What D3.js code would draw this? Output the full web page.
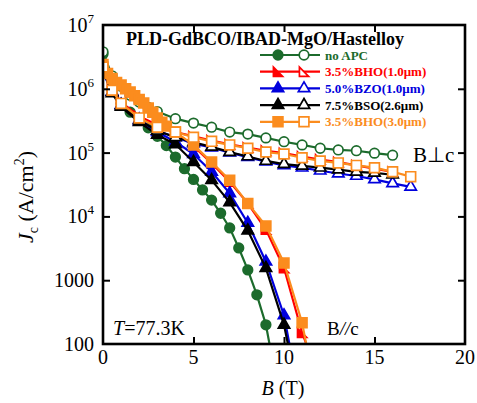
<!DOCTYPE html>
<html><head><meta charset="utf-8">
<script src="https://cdn.jsdelivr.net/npm/d3@7"></script>
<style>body{margin:0;background:#fff} svg{display:block}</style>
</head><body><svg id="c" width="477" height="403"></svg>
<script>
// ---------- DATA ----------
const seriesNames = ["no APC", "3.5%BHO(1.0\u03bcm)", "5.0%BZO(1.0\u03bcm)", "7.5%BSO(2.6\u03bcm)", "3.5%BHO(3.0\u03bcm)"];
const seriesColors = ["#1c6b2c", "#ff0000", "#0000dd", "#000000", "#fb8c1e"];

// no APC
const B_noApc_perp = [0,0.5,1,1.5,2,2.5,3,4,5,6,7,8,9,10,11,12,13,14,15,16];
const J_noApc_perp = [3.8e6,1.6e6,1.1e6,7.9e5,6.2e5,5.1e5,4.4e5,3.4e5,2.9e5,2.5e5,2.1e5,1.95e5,1.7e5,1.48e5,1.32e5,1.17e5,1.1e5,1.07e5,9.8e4,9.1e4];
const B_noApc_par = [0,0.5,1,1.5,2,2.5,3,3.5,4,4.5,5,5.5,6,6.5,7,7.5,8,8.5,9,9.5];
const J_noApc_par = [3.5e6,9.5e5,5.9e5,4.3e5,3.3e5,2.45e5,1.8e5,1.29e5,8.5e4,5.6e4,3.8e4,2.6e4,1.8e4,1.12e4,6.6e3,3.2e3,1.45e3,590,200,35];

// 3.5% BHO (1.0 um)
const B_bho1_perp = [0,0.5,1,2,3,4,5,6,7,8,9,10,11,12,13,14,15,16];
const J_bho1_perp = [2.5e6,1.0e6,6.2e5,3.7e5,2.7e5,2.1e5,1.8e5,1.55e5,1.35e5,1.2e5,1.07e5,9.8e4,8.7e4,7.8e4,7.1e4,6.3e4,5.6e4,5.0e4];
const B_bho1_par = [0,0.5,1,1.5,2,2.5,3,4,5,6,7,8,9,10,11,11.5];
const J_bho1_par = [2.5e6,1.5e6,1.17e6,8.9e5,6.9e5,5.2e5,3.7e5,2.1e5,1.26e5,6.8e4,3.5e4,1.6e4,6.2e3,1.55e3,150,63];

// 5.0% BZO (1.0 um)
const B_bzo_perp = [0,0.5,1,2,3,4,5,6,7,8,9,10,11,12,13,14,15,16,17];
const J_bzo_perp = [2.0e6,9.0e5,5.5e5,3.1e5,2.2e5,1.74e5,1.38e5,1.2e5,1.0e5,8.5e4,7.2e4,6.3e4,5.8e4,5.2e4,4.7e4,4.3e4,3.8e4,3.3e4,2.9e4];
const B_bzo_par = [0,0.5,1,2,3,4,5,6,7,8,9,10,10.5];
const J_bzo_par = [1.8e6,8.9e5,5.6e5,3.3e5,2.1e5,1.48e5,9.5e4,5.0e4,2.3e4,7.9e3,1.95e3,280,50];

// 7.5% BSO (2.6 um)
const B_bso_perp = [0,0.5,1,2,3,4,5,6,7,8,9,10,11,12,13,14,15,16];
const J_bso_perp = [2.0e6,8.9e5,5.5e5,3.2e5,2.2e5,1.74e5,1.45e5,1.23e5,1.02e5,8.7e4,7.4e4,6.6e4,6.2e4,5.8e4,5.4e4,5.0e4,4.8e4,4.5e4];
const B_bso_par = [0,0.5,1,2,3,4,5,6,7,8,9,10,10.5];
const J_bso_par = [2.0e6,8.5e5,5.2e5,3.0e5,1.9e5,1.35e5,7.1e4,3.7e4,1.66e4,6.0e3,1.55e3,200,40];

// 3.5% BHO (3.0 um)
const B_bho3_perp = [0,0.5,1,2,3,4,5,6,7,8,9,10,11,12,13,14,15,16,17];
const J_bho3_perp = [2.2e6,9.5e5,5.9e5,3.5e5,2.5e5,2.1e5,1.74e5,1.5e5,1.32e5,1.17e5,1.02e5,9.5e4,8.3e4,7.4e4,6.9e4,6.3e4,5.8e4,5.0e4,4.2e4];
const B_bho3_par = [0,0.25,0.5,0.75,1,1.25,1.5,1.75,2,2.25,2.5,2.75,3,3.25,3.5,4,5,6,7,8,9,10,11,11.5];
const J_bho3_par = [2.4e6,1.74e6,1.45e6,1.26e6,1.15e6,1.0e6,8.9e5,7.8e5,6.8e5,6.0e5,5.0e5,4.3e5,3.5e5,3.0e5,2.6e5,2.1e5,1.32e5,7.1e4,3.7e4,1.6e4,7.1e3,1.86e3,215,40];

const xTicks = [0,5,10,15,20];
const yTicks = [100,1e3,1e4,1e5,1e6,1e7];
const yTickLabels = [["100",""],["1000",""],["10","4"],["10","5"],["10","6"],["10","7"]];

// ---------- SETUP ----------
const svg = d3.select("#c");
const L = 103, R = 465, T = 25, Bt = 344;
const x = d3.scaleLinear().domain([0,20]).range([L,R]);
const y = d3.scaleLog().domain([100,1e7]).range([Bt,T]);
const serif = "'Liberation Serif','Times New Roman',serif";

svg.append("defs").append("clipPath").attr("id","clip")
  .append("rect").attr("x",L).attr("y",T).attr("width",R-L).attr("height",Bt-T);

const rightTri = {draw(ctx,size){const r=Math.sqrt(size)/2; ctx.moveTo(-r,-r); ctx.lineTo(-r,r); ctx.lineTo(r,r); ctx.closePath();}};
const symbols = [d3.symbolCircle, rightTri, d3.symbolTriangle, d3.symbolTriangle, d3.symbolSquare];
const symSize = [72, 84, 56, 56, 96];

const series = [
  {perp:[B_noApc_perp,J_noApc_perp], par:[B_noApc_par,J_noApc_par]},
  {perp:[B_bho1_perp,J_bho1_perp], par:[B_bho1_par,J_bho1_par]},
  {perp:[B_bzo_perp,J_bzo_perp], par:[B_bzo_par,J_bzo_par]},
  {perp:[B_bso_perp,J_bso_perp], par:[B_bso_par,J_bso_par]},
  {perp:[B_bho3_perp,J_bho3_perp], par:[B_bho3_par,J_bho3_par]}
];

const line = d3.line().x(d=>x(d[0])).y(d=>y(d[1]));
const plot = svg.append("g").attr("clip-path","url(#clip)");

series.forEach((s,i)=>{
  const col = seriesColors[i];
  const g = plot.append("g");
  [["par",true],["perp",false]].forEach(([k,filled])=>{
    const pts = s[k][0].map((b,j)=>[b,s[k][1][j]]);
    g.append("path").attr("d",line(pts)).attr("fill","none").attr("stroke",col).attr("stroke-width",2.2);
    g.selectAll(null).data(pts).enter().append("path")
      .attr("transform",d=>`translate(${x(d[0])},${y(d[1])})`)
      .attr("d",d3.symbol().type(symbols[i]).size(symSize[i]))
      .attr("fill",filled?col:"#fff").attr("stroke",col).attr("stroke-width",1.7);
  });
});

// ---------- AXES ----------
const ax = svg.append("g");
ax.append("g").attr("transform",`translate(0,${Bt})`).call(d3.axisBottom(x).tickValues(xTicks.slice(1,-1)).tickSize(-7).tickFormat(""));
ax.append("g").attr("transform",`translate(0,${T})`).call(d3.axisTop(x).tickValues(xTicks.slice(1,-1)).tickSize(-7).tickFormat(""));
ax.append("g").attr("transform",`translate(${L},0)`).call(d3.axisLeft(y).tickValues(yTicks.slice(1,-1)).tickSize(-7).tickFormat(""));
ax.append("g").attr("transform",`translate(${R},0)`).call(d3.axisRight(y).tickValues(yTicks.slice(1,-1)).tickSize(-7).tickFormat(""));
ax.selectAll(".domain").remove();
ax.selectAll("line").attr("stroke","#000").attr("stroke-width",2);
svg.append("rect").attr("x",L).attr("y",T).attr("width",R-L).attr("height",Bt-T)
  .attr("fill","none").attr("stroke","#000").attr("stroke-width",2.6);

// tick labels
svg.append("g").selectAll("text").data(xTicks).enter().append("text")
  .attr("x",d=>x(d)).attr("y",Bt+20).attr("text-anchor","middle")
  .attr("font-family",serif).attr("font-size",20).text(d=>d);
const yl = svg.append("g").selectAll("text").data(yTicks).enter().append("text")
  .attr("x",L-9).attr("y",d=>y(d)+7).attr("text-anchor","end")
  .attr("font-family",serif).attr("font-size",20);
yl.each(function(d,i){
  const t = d3.select(this), lab = yTickLabels[i];
  t.append("tspan").text(lab[0]);
  if(lab[1]) t.append("tspan").attr("dy",-9).attr("font-size",13).text(lab[1]);
});

// axis titles
const xt = svg.append("text").attr("x",283).attr("y",395).attr("text-anchor","middle")
  .attr("font-family",serif).attr("font-size",20);
xt.append("tspan").attr("font-style","italic").text("B");
xt.append("tspan").text(" (T)");
const ytl = svg.append("text").attr("transform","translate(33,197) rotate(-90)").attr("text-anchor","middle")
  .attr("font-family",serif).attr("font-size",22);
ytl.append("tspan").attr("font-style","italic").text("J");
ytl.append("tspan").attr("font-size",14).attr("dy",5).text("c");
ytl.append("tspan").attr("dy",-5).text(" (A/cm");
ytl.append("tspan").attr("font-size",14).attr("dy",-9).text("2");
ytl.append("tspan").attr("dy",9).text(")");

// title
svg.append("text").attr("x",126).attr("y",45).attr("font-family",serif).attr("font-weight","bold")
  .attr("font-size",18).text("PLD-GdBCO/IBAD-MgO/Hastelloy");

// annotations
svg.append("text").attr("x",413).attr("y",162).attr("font-family",serif).attr("font-size",21).text("B\u22a5c");
const bpar = svg.append("text").attr("x",327).attr("y",335).attr("font-family",serif).attr("font-size",19);
bpar.append("tspan").text("B");
bpar.append("tspan").attr("font-style","italic").text("//");
bpar.append("tspan").text("c");
const tt = svg.append("text").attr("x",113).attr("y",335).attr("font-family",serif).attr("font-size",20);
tt.append("tspan").attr("font-style","italic").text("T");
tt.append("tspan").text("=77.3K");

// legend
const leg = svg.append("g");
seriesNames.forEach((name,i)=>{
  const ly = 55 + i*16.7, col = seriesColors[i];
  leg.append("line").attr("x1",260).attr("x2",320).attr("y1",ly).attr("y2",ly).attr("stroke",col).attr("stroke-width",2.2);
  leg.append("path").attr("transform",`translate(278,${ly})`).attr("d",d3.symbol().type(symbols[i]).size(symSize[i]))
    .attr("fill",col).attr("stroke",col).attr("stroke-width",1.7);
  leg.append("path").attr("transform",`translate(304,${ly})`).attr("d",d3.symbol().type(symbols[i]).size(symSize[i]))
    .attr("fill","#fff").attr("stroke",col).attr("stroke-width",1.7);
  leg.append("text").attr("x",325).attr("y",ly+4.5).attr("font-family",serif).attr("font-weight","bold")
    .attr("font-size",13).attr("fill",col).text(name);
});
</script></body></html>
